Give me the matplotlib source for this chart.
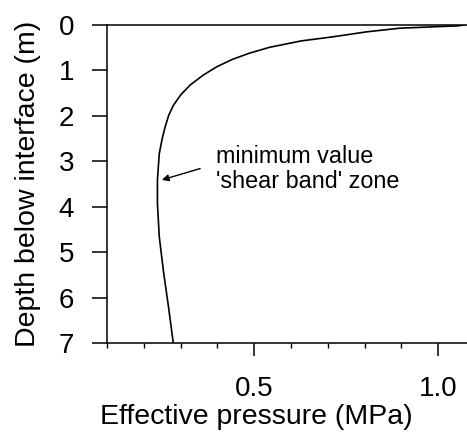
import matplotlib
matplotlib.use("Agg")
import matplotlib.pyplot as plt
from matplotlib.ticker import FixedLocator, MultipleLocator

plt.rcParams['font.family'] = ['Liberation Sans', 'DejaVu Sans']

depth = [0, 0.02, 0.04, 0.07, 0.15, 0.26, 0.35, 0.49, 0.62, 0.755, 0.92, 1.10,
         1.32, 1.54, 1.76, 1.98, 2.24, 2.50, 2.83, 3.41, 3.93, 4.66, 5.4, 6.2, 7.0]
pressure = [1.07, 1.05, 0.986, 0.896, 0.806, 0.714, 0.628, 0.542, 0.487, 0.441,
            0.398, 0.362, 0.326, 0.300, 0.281, 0.268, 0.258, 0.250, 0.242, 0.237,
            0.237, 0.242, 0.253, 0.267, 0.28]

x_major = [0.5, 1.0]
x_major_labels = ['0.5', '1.0']
y_ticks = [0, 1, 2, 3, 4, 5, 6, 7]

annot_text = "minimum value\n'shear band' zone"
arrow_head = (0.249, 3.41)
arrow_tail = (0.353, 3.16)
text_pos = (0.396, 3.17)

W, H = 467, 437
fig = plt.figure(figsize=(W / 100, H / 100), dpi=100)
ax = fig.add_axes([107 / W, (H - 343) / H, (W - 107) / W, (343 - 25) / H])

ax.plot(pressure, depth, color='black', lw=1.2)
ax.set_xlim(0.1, 1.078)
ax.set_ylim(7, 0)

ax.spines['right'].set_visible(False)
for s in ['left', 'top', 'bottom']:
    ax.spines[s].set_linewidth(1.1)

ax.xaxis.set_major_locator(FixedLocator(x_major))
ax.set_xticklabels(x_major_labels)
ax.xaxis.set_minor_locator(MultipleLocator(0.1))
ax.set_yticks(y_ticks)

ax.tick_params(axis='x', which='major', direction='out', length=9.5, width=1.1,
               labelsize=20, pad=14)
ax.tick_params(axis='x', which='minor', direction='out', length=3.8, width=1.0)
ax.tick_params(axis='y', which='major', direction='out', length=10.8, width=1.1,
               labelsize=20, pad=13)

ax.set_xlabel('Effective pressure (MPa)', fontsize=20.5)
ax.set_ylabel('Depth below interface (m)', fontsize=20.5)
ax.xaxis.set_label_coords(0.414, (343 - 417) / 318)
ax.xaxis.label.set_va('center')
ax.yaxis.set_label_coords((28 - 107) / 360, 0.5)
ax.yaxis.label.set_va('center')

ax.text(text_pos[0], text_pos[1], annot_text, fontsize=16.8, ha='left', va='center',
        linespacing=1.1)
ax.annotate('', xy=arrow_head, xytext=arrow_tail,
            arrowprops=dict(arrowstyle='-|>', color='black', lw=1.0,
                            mutation_scale=10, shrinkA=0, shrinkB=0))

fig.savefig('out.png', dpi=100)
